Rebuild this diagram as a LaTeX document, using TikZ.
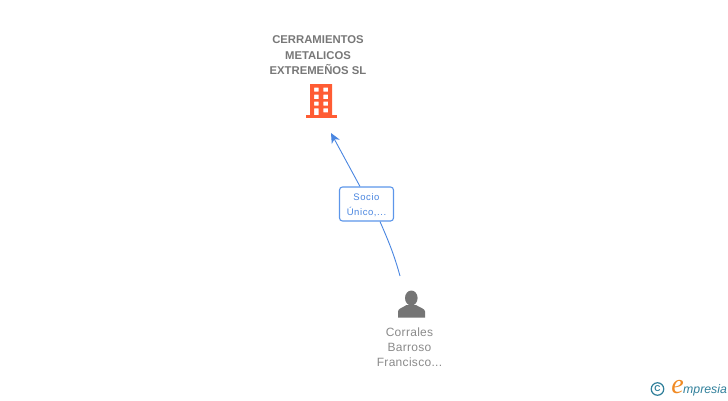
\documentclass[tikz,border=0pt]{standalone}
\usepackage{fontspec}
\setmainfont{Liberation Sans}
\newfontfamily\wideface[LetterSpace=2.5]{Liberation Sans}
\newfontfamily\widerface[LetterSpace=6]{Liberation Sans}
\newfontfamily\logoface{Liberation Serif}
\usetikzlibrary{arrows.meta}
\definecolor{titlegrey}{HTML}{777777}
\definecolor{persongrey}{HTML}{757575}
\definecolor{buildorange}{HTML}{FF5C33}
\definecolor{linkblue}{HTML}{4A86E0}
\definecolor{boxblue}{HTML}{5C96EA}
\definecolor{logoteal}{HTML}{2F7F9A}
\definecolor{logoorange}{HTML}{F08A24}
\tikzset{
  x=1pt,y=-1pt,
  titletext/.style={align=center,inner sep=0pt,text=titlegrey,font=\fontsize{11.3}{15.3}\selectfont\bfseries},
  persontext/.style={align=center,inner sep=0pt,text=persongrey!85,font=\wideface\fontsize{12}{15.3}\selectfont},
  reltag/.style={draw=boxblue,line width=1.1pt,rounded corners=3pt,fill=white,minimum width=54pt,minimum height=34pt,inner sep=0pt,align=center,text=linkblue,font=\widerface\fontsize{9.5}{15}\selectfont},
  linkline/.style={draw=linkblue,line width=0.9pt},
}
\begin{document}
\begin{tikzpicture}
\useasboundingbox (0,0) rectangle (728,400);
% company
\node[titletext] (company) at (318,55.3) {CERRAMIENTOS\\METALICOS\\EXTREMEÑOS SL};
\fill[buildorange,even odd rule] (310,84) rectangle (332,115)
  (314,87.7) rectangle (318.7,91.7) (323.3,87.7) rectangle (328,91.7)
  (314,94.5) rectangle (318.7,99) (323.3,94.5) rectangle (328,99)
  (314,101.5) rectangle (318.7,105.7) (323.3,101.5) rectangle (328,105.7)
  (314,108.3) rectangle (318.7,115) (323.3,108.3) rectangle (328,112.3);
\fill[buildorange] (305.5,115) rectangle (337,117.8);
\coordinate (buildingfoot) at (331,133);
% person
\fill[persongrey] (411.3,298) ellipse [x radius=6.3,y radius=7.5];
\fill[persongrey] (398,317.5) -- (398,311.5) .. controls (398,308.5) and (403,307.5) .. (406.5,305)
  -- (416,305) .. controls (419.5,307.5) and (425,308.5) .. (425,311.5) -- (425,317.5) -- cycle;
\coordinate (personhead) at (400,276);
\node[persontext] (person) at (409.5,347.2) {Corrales\\Barroso\\Francisco...};
% relation
\node[reltag] (tag) at (366.5,204) {};
\node[inner sep=0pt,align=center,text=linkblue,font=\widerface\fontsize{9.5}{15}\selectfont] (taglabel) at (366.5,205) {Socio\\Único,...};
\draw[linkline] (personhead) .. controls (394,254) and (388,240) .. ([xshift=13.5pt]tag.south);
\draw[linkline,-{Stealth[length=10pt,width=9pt,inset=3pt]}] ([xshift=-6.5pt]tag.north) -- (buildingfoot);
% logo
\node[circle,draw=logoteal,line width=1.2pt,inner sep=0pt,minimum size=12.5pt,text=logoteal,font=\bfseries\fontsize{8.5}{8.5}\selectfont] (copyr) at (657.5,389) {C};
\node[inner sep=0pt,text=logoorange,font=\logoface\itshape\fontsize{28}{28}\selectfont] (logoe) at (677.5,387.5) {e};
\node[inner sep=0pt,anchor=west,text=logoteal,font=\itshape\fontsize{12.3}{12.3}\selectfont] (logoname) at (683,390.5) {mpresia};
\end{tikzpicture}
\end{document}
